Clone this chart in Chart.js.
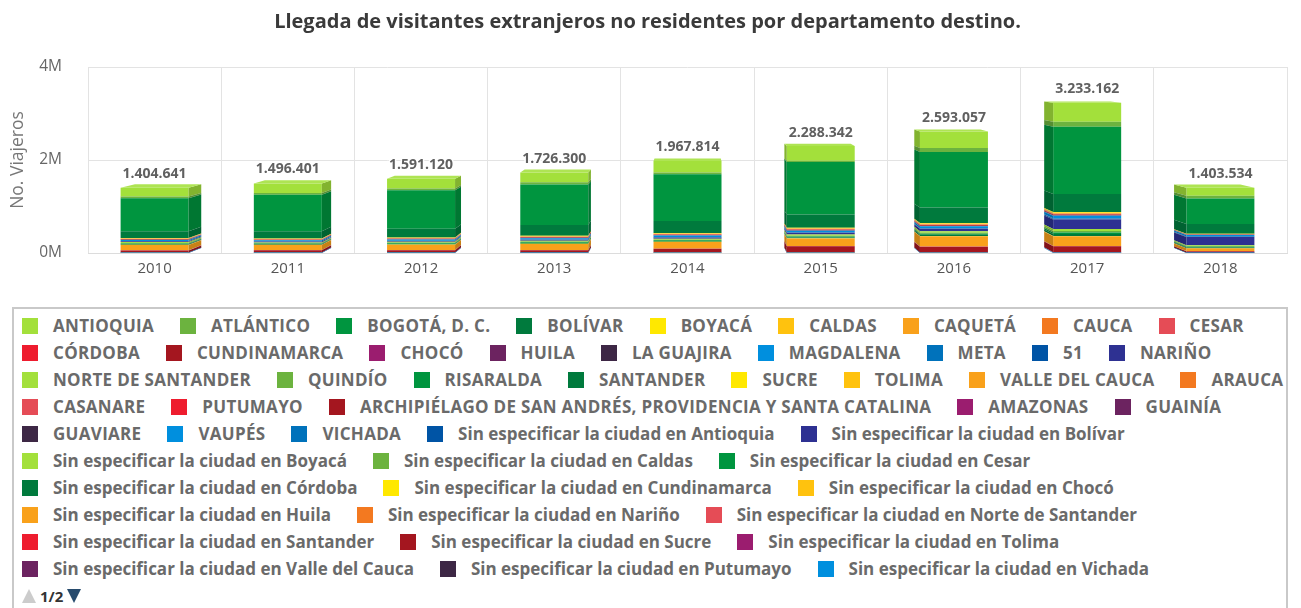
<!DOCTYPE html>
<html>
<head>
<meta charset="utf-8">
<script src="https://cdn.jsdelivr.net/npm/chart.js@4.4.0/dist/chart.umd.min.js"></script>
<style>
  html, body { margin:0; padding:0; background:#fff; }
  body { width:1301px; height:608px; overflow:hidden; position:relative; font-family: "Open Sans", Lato, sans-serif; }
  #wrap { position:absolute; left:0; top:0; width:1301px; height:300px; }
  #legend { position:absolute; left:12px; top:307px; width:1276px; height:320px; border:2px solid #c9c9c9; box-sizing:border-box; padding:3px 0 0 8px; }
  .row { display:flex; align-items:center; height:27px; white-space:nowrap; }
  .item { display:flex; align-items:center; margin-right:26px; font-size:17px; font-weight:bold; color:#6a6a6a; }
  .item.caps { letter-spacing:0.3px; }
  .sw { width:16px; height:16px; margin-right:15px; flex:none; }
  .nav { display:flex; align-items:center; height:27px; font-size:15px; font-weight:bold; color:#333; }
  .up { width:0; height:0; border-left:7px solid transparent; border-right:7px solid transparent; border-bottom:14px solid #cccccc; margin-right:4px; }
  .down { width:0; height:0; border-left:7px solid transparent; border-right:7px solid transparent; border-top:14px solid #274b6d; margin-left:4px; }
</style>
</head>
<body>
<div id="wrap"><canvas id="c" width="1301" height="300"></canvas></div>
<div id="legend"></div>
<script>
// ---------------- DATA ----------------
const years = ['2010','2011','2012','2013','2014','2015','2016','2017','2018'];
const totals = [1404641, 1496401, 1591120, 1726300, 1967814, 2288342, 2593057, 3233162, 1403534];

const seriesNames = [
  'ANTIOQUIA','ATLÁNTICO','BOGOTÁ, D. C.','BOLÍVAR','BOYACÁ','CALDAS','CAQUETÁ','CAUCA','CESAR',
  'CÓRDOBA','CUNDINAMARCA','CHOCÓ','HUILA','LA GUAJIRA','MAGDALENA','META','51','NARIÑO',
  'NORTE DE SANTANDER','QUINDÍO','RISARALDA','SANTANDER','SUCRE','TOLIMA','VALLE DEL CAUCA','ARAUCA',
  'CASANARE','PUTUMAYO','ARCHIPIÉLAGO DE SAN ANDRÉS, PROVIDENCIA Y SANTA CATALINA','AMAZONAS','GUAINÍA',
  'GUAVIARE','VAUPÉS','VICHADA','Sin especificar la ciudad en Antioquia','Sin especificar la ciudad en Bolívar',
  'Sin especificar la ciudad en Boyacá','Sin especificar la ciudad en Caldas','Sin especificar la ciudad en Cesar',
  'Sin especificar la ciudad en Córdoba','Sin especificar la ciudad en Cundinamarca','Sin especificar la ciudad en Chocó',
  'Sin especificar la ciudad en Huila','Sin especificar la ciudad en Nariño','Sin especificar la ciudad en Norte de Santander',
  'Sin especificar la ciudad en Santander','Sin especificar la ciudad en Sucre','Sin especificar la ciudad en Tolima',
  'Sin especificar la ciudad en Valle del Cauca','Sin especificar la ciudad en Putumayo','Sin especificar la ciudad en Vichada'
];

const palette = ['#a3e03b','#6cb33f','#00953f','#007a3d','#ffe800','#ffc20e','#f9a11b','#f37920','#e54c56',
                 '#ee1c2e','#a4161f','#9b1d6f','#6c2360','#3d2745','#008fde','#0072bb','#0054a5','#2e3192'];

const vAntioquia      = [190412, 208733, 207960, 211384, 246120, 318905, 355270, 410388, 173250];
const vAtlantico      = [35210, 35480, 35930, 48760, 35120, 28340, 84960, 105230, 55120];
const vBogota         = [713130, 786240, 830410, 867020, 1004870, 1127350, 1193120, 1447310, 553080];
const vBolivar        = [145320, 153110, 187250, 232880, 260140, 283060, 334120, 388240, 207150];
const vBoyaca         = [6120, 6350, 7040, 8010, 8230, 10110, 11240, 13050, 4120];
const vCaldas         = [8030, 8210, 9120, 10240, 10350, 12180, 14050, 16230, 5080];
const vCaqueta        = [820, 870, 930, 1010, 1120, 1250, 1310, 1420, 540];
const vCauca          = [5140, 5230, 6010, 6320, 7050, 8120, 9030, 9340, 4010];
const vCesar          = [3020, 3110, 3250, 4030, 4120, 5040, 5210, 6030, 2050];
const vCordoba        = [3010, 3050, 3220, 4010, 4110, 5020, 5130, 5240, 2010];
const vCundinamarca   = [8120, 8240, 9150, 10120, 12040, 14130, 15040, 17210, 5120];
const vChoco          = [910, 960, 1030, 1120, 1240, 1820, 2010, 2130, 820];
const vHuila          = [2030, 2120, 2240, 3010, 3050, 3120, 3240, 3310, 1120];
const vLaGuajira      = [3040, 3120, 3210, 4050, 4120, 4230, 4310, 5020, 2040];
const vMagdalena      = [24120, 22310, 25040, 28120, 32050, 35210, 40130, 55230, 30120];
const vMeta           = [4010, 4120, 4230, 5040, 6010, 6120, 7030, 8140, 3020];
const v51             = [820, 910, 1030, 1120, 2040, 2210, 3050, 20130, 12040];
const vNarino         = [16120, 16230, 17040, 19110, 28050, 40120, 55210, 200140, 173120];
const vNorteSantander = [19120, 14210, 18050, 20130, 20040, 25110, 32050, 45120, 20130];
const vQuindio        = [12040, 10120, 13050, 15120, 14030, 17040, 22120, 30110, 13040];
const vRisaralda      = [13050, 12130, 14120, 16030, 15040, 18120, 22040, 35120, 15030];
const vSantander      = [14030, 12040, 15120, 17040, 16120, 20050, 26130, 40110, 16020];
const vSucre          = [2010, 2030, 2050, 2120, 2210, 3040, 3120, 5030, 2010];
const vTolima         = [2020, 2040, 2110, 2130, 2230, 3010, 3050, 5040, 2030];
const vValle          = [112040, 112130, 112350, 128210, 142130, 156120, 218050, 205130, 60120];
const vArauca         = [1820, 1910, 2030, 2120, 2210, 2340, 3020, 3110, 1050];
const vCasanare       = [1910, 2010, 2120, 2230, 2340, 3010, 3120, 3230, 1020];
const vPutumayo       = [980, 1020, 1110, 1130, 1210, 1340, 2010, 2120, 830];
const vArchipielago   = [48120, 50230, 50110, 50210, 78040, 135120, 120050, 130210, 32050];
const vAmazonas       = [3010, 3050, 3120, 3210, 4030, 4120, 5040, 5130, 2020];
const vGuainia        = [310, 320, 330, 350, 370, 390, 420, 450, 180];
const vGuaviare       = [280, 290, 310, 330, 350, 360, 390, 420, 160];
const vVaupes         = [210, 220, 230, 250, 260, 280, 300, 320, 120];
const vVichada        = [190, 200, 210, 220, 240, 250, 270, 290, 110];
const vSinAntioquia   = [820, 860, 900, 940, 1010, 1100, 1180, 1250, 520];
const vSinBolivar     = [640, 680, 720, 760, 820, 880, 940, 1020, 430];
const vSinBoyaca      = [210, 220, 230, 250, 270, 290, 310, 330, 140];
const vSinCaldas      = [180, 190, 200, 210, 230, 250, 270, 290, 120];
const vSinCesar       = [150, 160, 170, 180, 190, 210, 230, 250, 100];
const vSinCordoba     = [140, 150, 160, 170, 180, 200, 220, 240, 90];
const vSinCundinamarca= [420, 440, 460, 480, 510, 550, 590, 630, 260];
const vSinChoco       = [90, 100, 110, 120, 130, 140, 150, 160, 70];
const vSinHuila       = [130, 140, 150, 160, 170, 180, 200, 220, 90];
const vSinNarino      = [160, 170, 180, 200, 260, 340, 420, 610, 350];
const vSinNorteSant   = [230, 240, 250, 270, 290, 320, 350, 400, 170];
const vSinSantander   = [260, 270, 280, 300, 320, 350, 380, 420, 180];
const vSinSucre       = [80, 90, 100, 110, 120, 130, 140, 150, 60];
const vSinTolima      = [110, 120, 130, 140, 150, 160, 170, 190, 80];
const vSinValle       = [540, 560, 590, 620, 660, 710, 760, 820, 340];
const vSinPutumayo    = [70, 80, 90, 100, 110, 120, 130, 140, 60];
const vSinVichada     = [40, 50, 50, 60, 60, 70, 70, 80, 30];

const seriesValues = [vAntioquia, vAtlantico, vBogota, vBolivar, vBoyaca, vCaldas, vCaqueta, vCauca, vCesar,
  vCordoba, vCundinamarca, vChoco, vHuila, vLaGuajira, vMagdalena, vMeta, v51, vNarino,
  vNorteSantander, vQuindio, vRisaralda, vSantander, vSucre, vTolima, vValle, vArauca,
  vCasanare, vPutumayo, vArchipielago, vAmazonas, vGuainia, vGuaviare, vVaupes, vVichada,
  vSinAntioquia, vSinBolivar, vSinBoyaca, vSinCaldas, vSinCesar, vSinCordoba, vSinCundinamarca,
  vSinChoco, vSinHuila, vSinNarino, vSinNorteSant, vSinSantander, vSinSucre, vSinTolima,
  vSinValle, vSinPutumayo, vSinVichada];

const legendRowSizes = [9, 9, 8, 5, 5, 3, 3, 3, 3, 3];

// ---------------- HELPERS ----------------
function shade(hex, amt) {
  const n = parseInt(hex.slice(1), 16);
  let r = (n >> 16) & 255, g = (n >> 8) & 255, b = n & 255;
  const t = amt < 0 ? 0 : 255, p = Math.abs(amt);
  r = Math.round(r + (t - r) * p); g = Math.round(g + (t - g) * p); b = Math.round(b + (t - b) * p);
  return 'rgb(' + r + ',' + g + ',' + b + ')';
}
function fmt(n) { return String(n).replace(/\B(?=(\d{3})+(?!\d))/g, '.'); }

// Highcharts stacks the first series on top; Chart.js stacks the first dataset at the bottom, so reverse.
const datasets = seriesNames.map((name, i) => ({
  label: name,
  data: seriesValues[i],
  backgroundColor: palette[i % palette.length],
  borderWidth: 0,
  inflateAmount: 0,
  stack: 's'
})).reverse();

const FONT = '"Open Sans", Lato, sans-serif';

const depth3d = {
  id: 'depth3d',
  afterDatasetsDraw(chart) {
    const ctx = chart.ctx, ca = chart.chartArea;
    const vx = ca.left + (ca.right - ca.left) * 0.505, vy = 53, s = 0.975;
    const BX = X => vx + (X - vx) * s, BY = Y => vy + (Y - vy) * s;
    const n = chart.data.labels.length;
    const topDone = new Array(n).fill(false);
    ctx.save();
    for (let d = chart.data.datasets.length - 1; d >= 0; d--) {
      const meta = chart.getDatasetMeta(d);
      const col = chart.data.datasets[d].backgroundColor;
      meta.data.forEach((el, i) => {
        const p = el.getProps(['x', 'y', 'base', 'width'], true);
        const top = Math.min(p.y, p.base), bot = Math.max(p.y, p.base);
        if (bot - top < 0.05) return;
        const xl = p.x - p.width / 2, xr = p.x + p.width / 2;
        if (xr < vx || xl > vx) {
          const xe = xr < vx ? xr : xl;
          ctx.fillStyle = shade(col, -0.2);
          ctx.beginPath();
          ctx.moveTo(xe, top); ctx.lineTo(BX(xe), BY(top)); ctx.lineTo(BX(xe), BY(bot)); ctx.lineTo(xe, bot);
          ctx.closePath(); ctx.fill();
        }
        if (!topDone[i]) {
          topDone[i] = true;
          ctx.fillStyle = shade(col, 0.12);
          ctx.beginPath();
          ctx.moveTo(xl, top); ctx.lineTo(xr, top); ctx.lineTo(BX(xr), BY(top)); ctx.lineTo(BX(xl), BY(top));
          ctx.closePath(); ctx.fill();
        }
      });
    }
    ctx.restore();
  }
};

const totalLabels = {
  id: 'totalLabels',
  afterDraw(chart) {
    const ctx = chart.ctx, ys = chart.scales.y, xs = chart.scales.x;
    ctx.save();
    ctx.font = 'bold 14px ' + FONT;
    ctx.textAlign = 'center'; ctx.textBaseline = 'middle';
    ctx.lineJoin = 'round';
    totals.forEach((t, i) => {
      const x = xs.getPixelForValue(i);
      const y = ys.getPixelForValue(t) - 14;
      ctx.strokeStyle = '#ffffff'; ctx.lineWidth = 3;
      ctx.strokeText(fmt(t), x, y);
      ctx.fillStyle = '#606060';
      ctx.fillText(fmt(t), x, y);
    });
    ctx.restore();
  }
};

new Chart(document.getElementById('c'), {
  type: 'bar',
  data: { labels: years, datasets },
  options: {
    responsive: false,
    animation: false,
    devicePixelRatio: 1,
    layout: { padding: { left: 8, right: 14, top: 0, bottom: 15 } },
    plugins: {
      legend: { display: false },
      tooltip: { enabled: false },
      title: {
        display: true,
        text: 'Llegada de visitantes extranjeros no residentes por departamento destino.',
        color: '#3a3a3a',
        font: { family: FONT, size: 20, weight: 'bold' },
        padding: { top: 10, bottom: 33 }
      }
    },
    datasets: { bar: { barThickness: 68 } },
    scales: {
      x: {
        stacked: true,
        grid: { color: '#e3e3e3', drawTicks: false, offset: true },
        border: { color: '#dcdcdc' },
        ticks: { color: '#555', font: { family: FONT, size: 15 }, padding: 7 }
      },
      y: {
        stacked: true,
        min: 0, max: 4000000,
        afterFit: s => { s.width = 80; },
        grid: { color: '#e3e3e3', drawTicks: false },
        border: { display: false },
        ticks: { stepSize: 2000000, color: '#666', font: { family: FONT, size: 15.5 }, padding: 26,
                 callback: v => (v / 1000000) + 'M' },
        title: { display: true, text: 'No. Viajeros', color: '#777', font: { family: FONT, size: 17.5 }, padding: { top: 0, bottom: 4 } }
      }
    }
  },
  plugins: [depth3d, totalLabels]
});

// ---------------- HTML LEGEND (page 1 of 2) ----------------
const leg = document.getElementById('legend');
let k = 0;
legendRowSizes.forEach(sz => {
  const row = document.createElement('div'); row.className = 'row';
  for (let j = 0; j < sz && k < seriesNames.length; j++, k++) {
    const it = document.createElement('div');
    it.className = 'item' + (seriesNames[k] === seriesNames[k].toUpperCase() ? ' caps' : '');
    const sw = document.createElement('span'); sw.className = 'sw'; sw.style.background = palette[k % palette.length];
    const tx = document.createElement('span'); tx.textContent = seriesNames[k];
    it.appendChild(sw); it.appendChild(tx); row.appendChild(it);
  }
  leg.appendChild(row);
});
const nav = document.createElement('div'); nav.className = 'nav';
nav.innerHTML = '<span class="up"></span><span>1/2</span><span class="down"></span>';
leg.appendChild(nav);
</script>
</body>
</html>
